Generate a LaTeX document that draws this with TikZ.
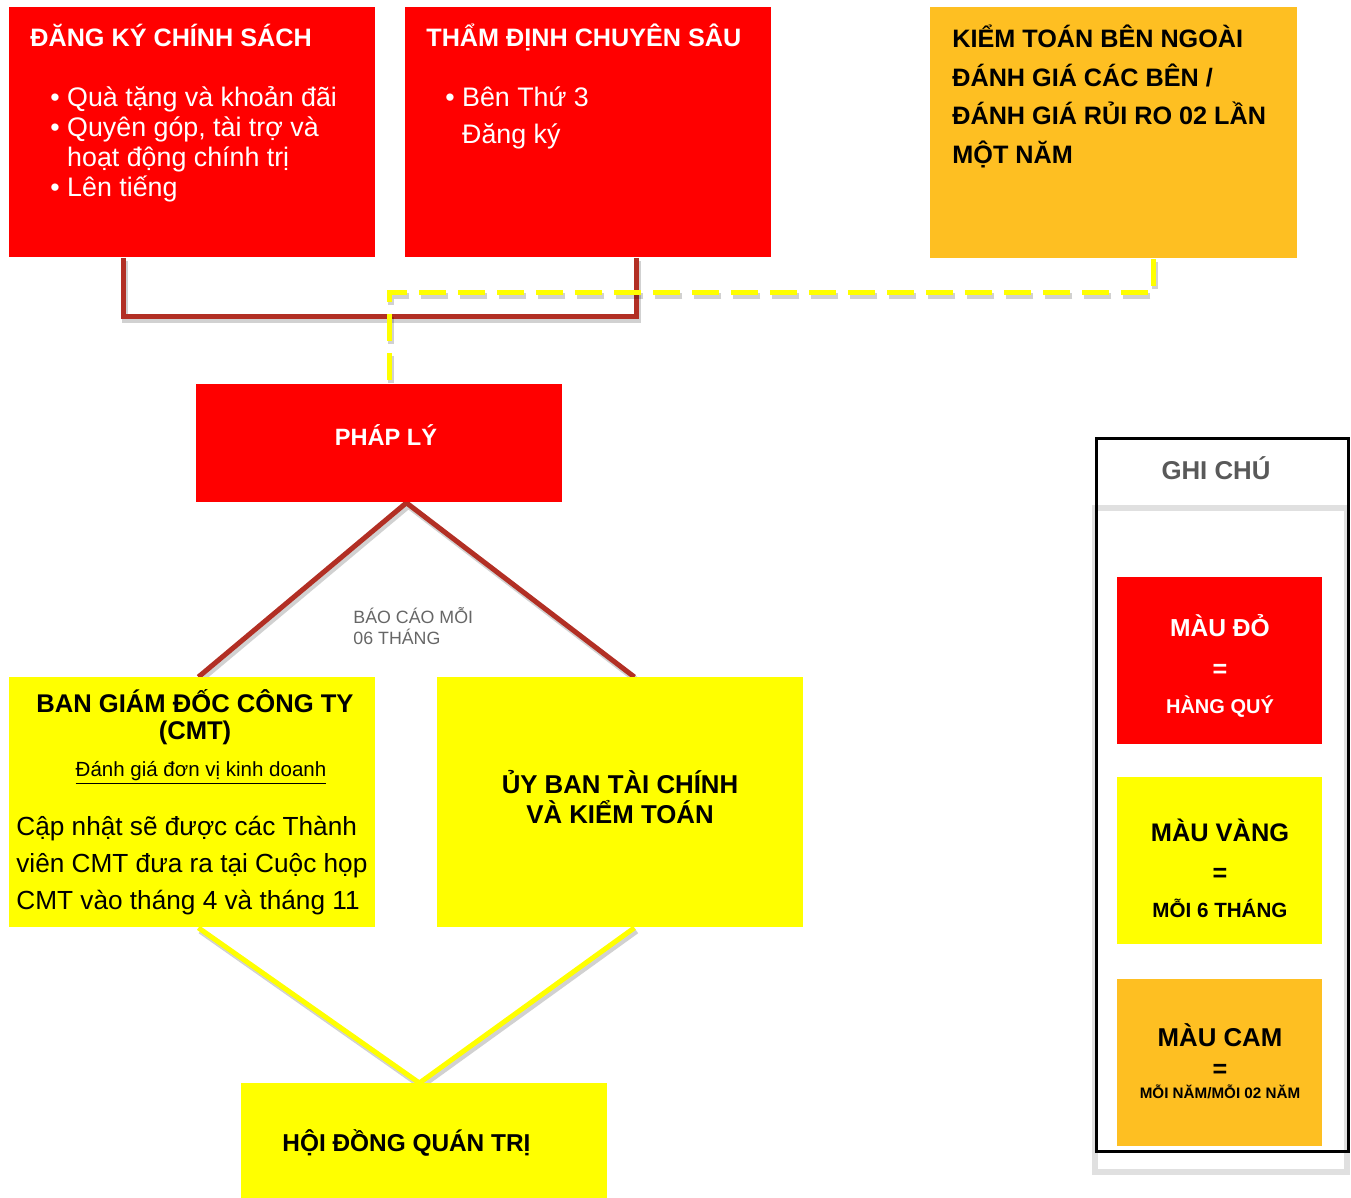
\documentclass[tikz,border=0pt]{standalone}
\usepackage{fontspec}
\setmainfont{Liberation Sans}
\usetikzlibrary{backgrounds}
\definecolor{boxorange}{RGB}{254,191,34}
\definecolor{boxyellow}{RGB}{255,255,0}
\definecolor{boxred}{RGB}{255,0,0}
\definecolor{linkred}{RGB}{178,47,36}
\definecolor{notegray}{RGB}{89,89,89}

\begin{document}
\begin{tikzpicture}[x=0.5pt,y=-0.5pt]
        \tikzstyle{every node}=[inner sep=0pt]
        \tikzstyle{blk}=[anchor=north west, minimum width=183pt, minimum height=125pt]
        \tikzstyle{redblk}=[blk, fill=boxred]
        \tikzstyle{yellowblk}=[blk, fill=boxyellow]
        \tikzstyle{orangeblk}=[blk, fill=boxorange]
        \tikzstyle{keyblk}=[anchor=north west, minimum width=102.5pt, minimum height=83.5pt]
        \tikzstyle{hdr}=[font=\bfseries\fontsize{12.6}{15}\selectfont]
        \tikzstyle{txt}=[font=\fontsize{13.4}{15}\selectfont, align=left, anchor=north west]
        \tikzstyle{shade}=[preaction={draw=black, opacity=.18, line width=3pt, transform canvas={xshift=1pt, yshift=-1.5pt}}]
        \tikzstyle{dashshade}=[preaction={draw=black, opacity=.18, line width=3pt, dash pattern=on 13.5pt off 6pt, transform canvas={xshift=1pt, yshift=-1.5pt}}]
        \tikzstyle{redlink}=[shade, draw=linkred, line width=2.5pt]
        \tikzstyle{yellowlink}=[shade, draw=boxyellow, line width=2.5pt]
        \tikzstyle{yellowdash}=[dashshade, draw=boxyellow, line width=2.5pt, dash pattern=on 13.5pt off 6pt]
        \useasboundingbox (0,0) rectangle (1351,1198);

        % boxes
        \node[redblk] (dangky) at (9,7) {};
        \node[redblk] (thamdinh) at (405,7) {};
        \node[orangeblk, minimum width=183.5pt, minimum height=125.5pt] (kiemtoan) at (930,7) {};
        \node[redblk, minimum height=59pt] (phaply) at (196,384) {};
        \node[yellowblk] (bgd) at (9,677) {};
        \node[yellowblk] (uyban) at (437,677) {};
        \node[yellowblk, minimum height=57.5pt] (hdqt) at (241,1083) {};

        % texts
        \node[hdr, white, anchor=base west] (dangkyT) at (30,47) {ĐĂNG KÝ CHÍNH SÁCH};
        \node[txt, white] (dangkyL) at (50,86) {• Quà tặng và khoản đãi\\• Quyên góp, tài trợ và\\\hphantom{• }hoạt động chính trị\\• Lên tiếng};
        \node[hdr, white, anchor=base west] (thamdinhT) at (426,47) {THẨM ĐỊNH CHUYÊN SÂU};
        \node[txt, white, font=\fontsize{13.4}{18.5}\selectfont] (thamdinhL) at (445,86) {• Bên Thứ 3\\\hphantom{• }Đăng ký};
        \node[hdr, align=left, anchor=north west, font=\bfseries\fontsize{12.6}{19.2}\selectfont] (kiemtoanT) at (952,25) {KIỂM TOÁN BÊN NGOÀI\\ĐÁNH GIÁ CÁC BÊN /\\ĐÁNH GIÁ RỦI RO 02 LẦN\\MỘT NĂM};
        \node[hdr, white, anchor=base, font=\bfseries\fontsize{11.8}{14}\selectfont] (phaplyT) at (386,445) {PHÁP LÝ};
        \node[hdr, align=center, anchor=north, font=\bfseries\fontsize{12.8}{13.5}\selectfont] (bgdT) at (195,689) {BAN GIÁM ĐỐC CÔNG TY\\(CMT)};
        \node[anchor=base, font=\fontsize{10.25}{12}\selectfont] (bgdU) at (201,776) {\underline{Đánh giá đơn vị kinh doanh}};
        \node[txt, font=\fontsize{13.1}{18.5}\selectfont] (bgdL) at (16,816) {Cập nhật sẽ được các Thành\\viên CMT đưa ra tại Cuộc họp\\CMT vào tháng 4 và tháng 11};
        \node[hdr, align=center, anchor=north, font=\bfseries\fontsize{12.9}{15}\selectfont] (uybanT) at (620,770) {ỦY BAN TÀI CHÍNH\\VÀ KIỂM TOÁN};
        \node[hdr, anchor=base west, font=\bfseries\fontsize{12.2}{15}\selectfont] (hdqtT) at (282,1151) {HỘI ĐỒNG QUÁN TRỊ};
        \node[align=left, anchor=north west, text=black!60, font=\fontsize{8.9}{10.5}\selectfont] (baocao) at (353,607) {BÁO CÁO MỖI\\06 THÁNG};

        % legend
        \draw[black!12, line width=3pt, fill=white] (1095,508) rectangle (1347,1172);
        \node[draw, line width=1.5pt, anchor=north west, minimum width=126pt, minimum height=356.5pt] (legend) at (1095,437) {};
        \node[hdr, anchor=base, text=notegray, font=\bfseries\fontsize{12.9}{16}\selectfont] (legendT) at (1216,480) {GHI CHÚ};
        \node[keyblk, fill=boxred] (keyred) at (1117,577) {};
        \node[keyblk, fill=boxyellow] (keyyellow) at (1117,777) {};
        \node[keyblk, fill=boxorange] (keyorange) at (1117,979) {};
        \node[hdr, white, anchor=base, font=\bfseries\fontsize{12.3}{15}\selectfont] (keyredA) at (1220,636) {MÀU ĐỎ};
        \node[hdr, white, font=\bfseries\fontsize{12.6}{15}\selectfont] (keyredB) at (1220,671) {=};
        \node[hdr, white, anchor=base, font=\bfseries\fontsize{10}{12}\selectfont] (keyredC) at (1220,713) {HÀNG QUÝ};
        \node[hdr, anchor=base, font=\bfseries\fontsize{12.7}{15}\selectfont] (keyyellowA) at (1220,841) {MÀU VÀNG};
        \node[hdr, font=\bfseries\fontsize{12.6}{15}\selectfont] (keyyellowB) at (1220,875) {=};
        \node[hdr, anchor=base, font=\bfseries\fontsize{10.3}{12}\selectfont] (keyyellowC) at (1220,917) {MỖI 6 THÁNG};
        \node[hdr, anchor=base, font=\bfseries\fontsize{12.9}{15}\selectfont] (keyorangeA) at (1220,1046) {MÀU CAM};
        \node[hdr, font=\bfseries\fontsize{12.6}{15}\selectfont] (keyorangeB) at (1220,1071) {=};
        \node[hdr, anchor=base, font=\bfseries\fontsize{7.6}{10}\selectfont] (keyorangeC) at (1220,1098) {MỖI NĂM/MỖI 02 NĂM};

        % links
        \begin{scope}[on background layer]
        \draw[redlink] ([xshift=-34.5pt]dangky.south) -- ++(0,59) -| ([xshift=24pt]thamdinh.south);
        \draw[yellowdash] ([xshift=19.75pt]kiemtoan.south) -- ++(0,34) -| ([xshift=5pt]phaply.north);
        \draw[redlink] ([xshift=3pt]bgd.north) -- ([xshift=13.5pt]phaply.south) -- ([xshift=7pt]uyban.north);
        \draw[yellowlink] ([xshift=3pt]bgd.south) -- ([xshift=-2.5pt]hdqt.north) -- ([xshift=7pt]uyban.south);
        \end{scope}
\end{tikzpicture}
\end{document}
